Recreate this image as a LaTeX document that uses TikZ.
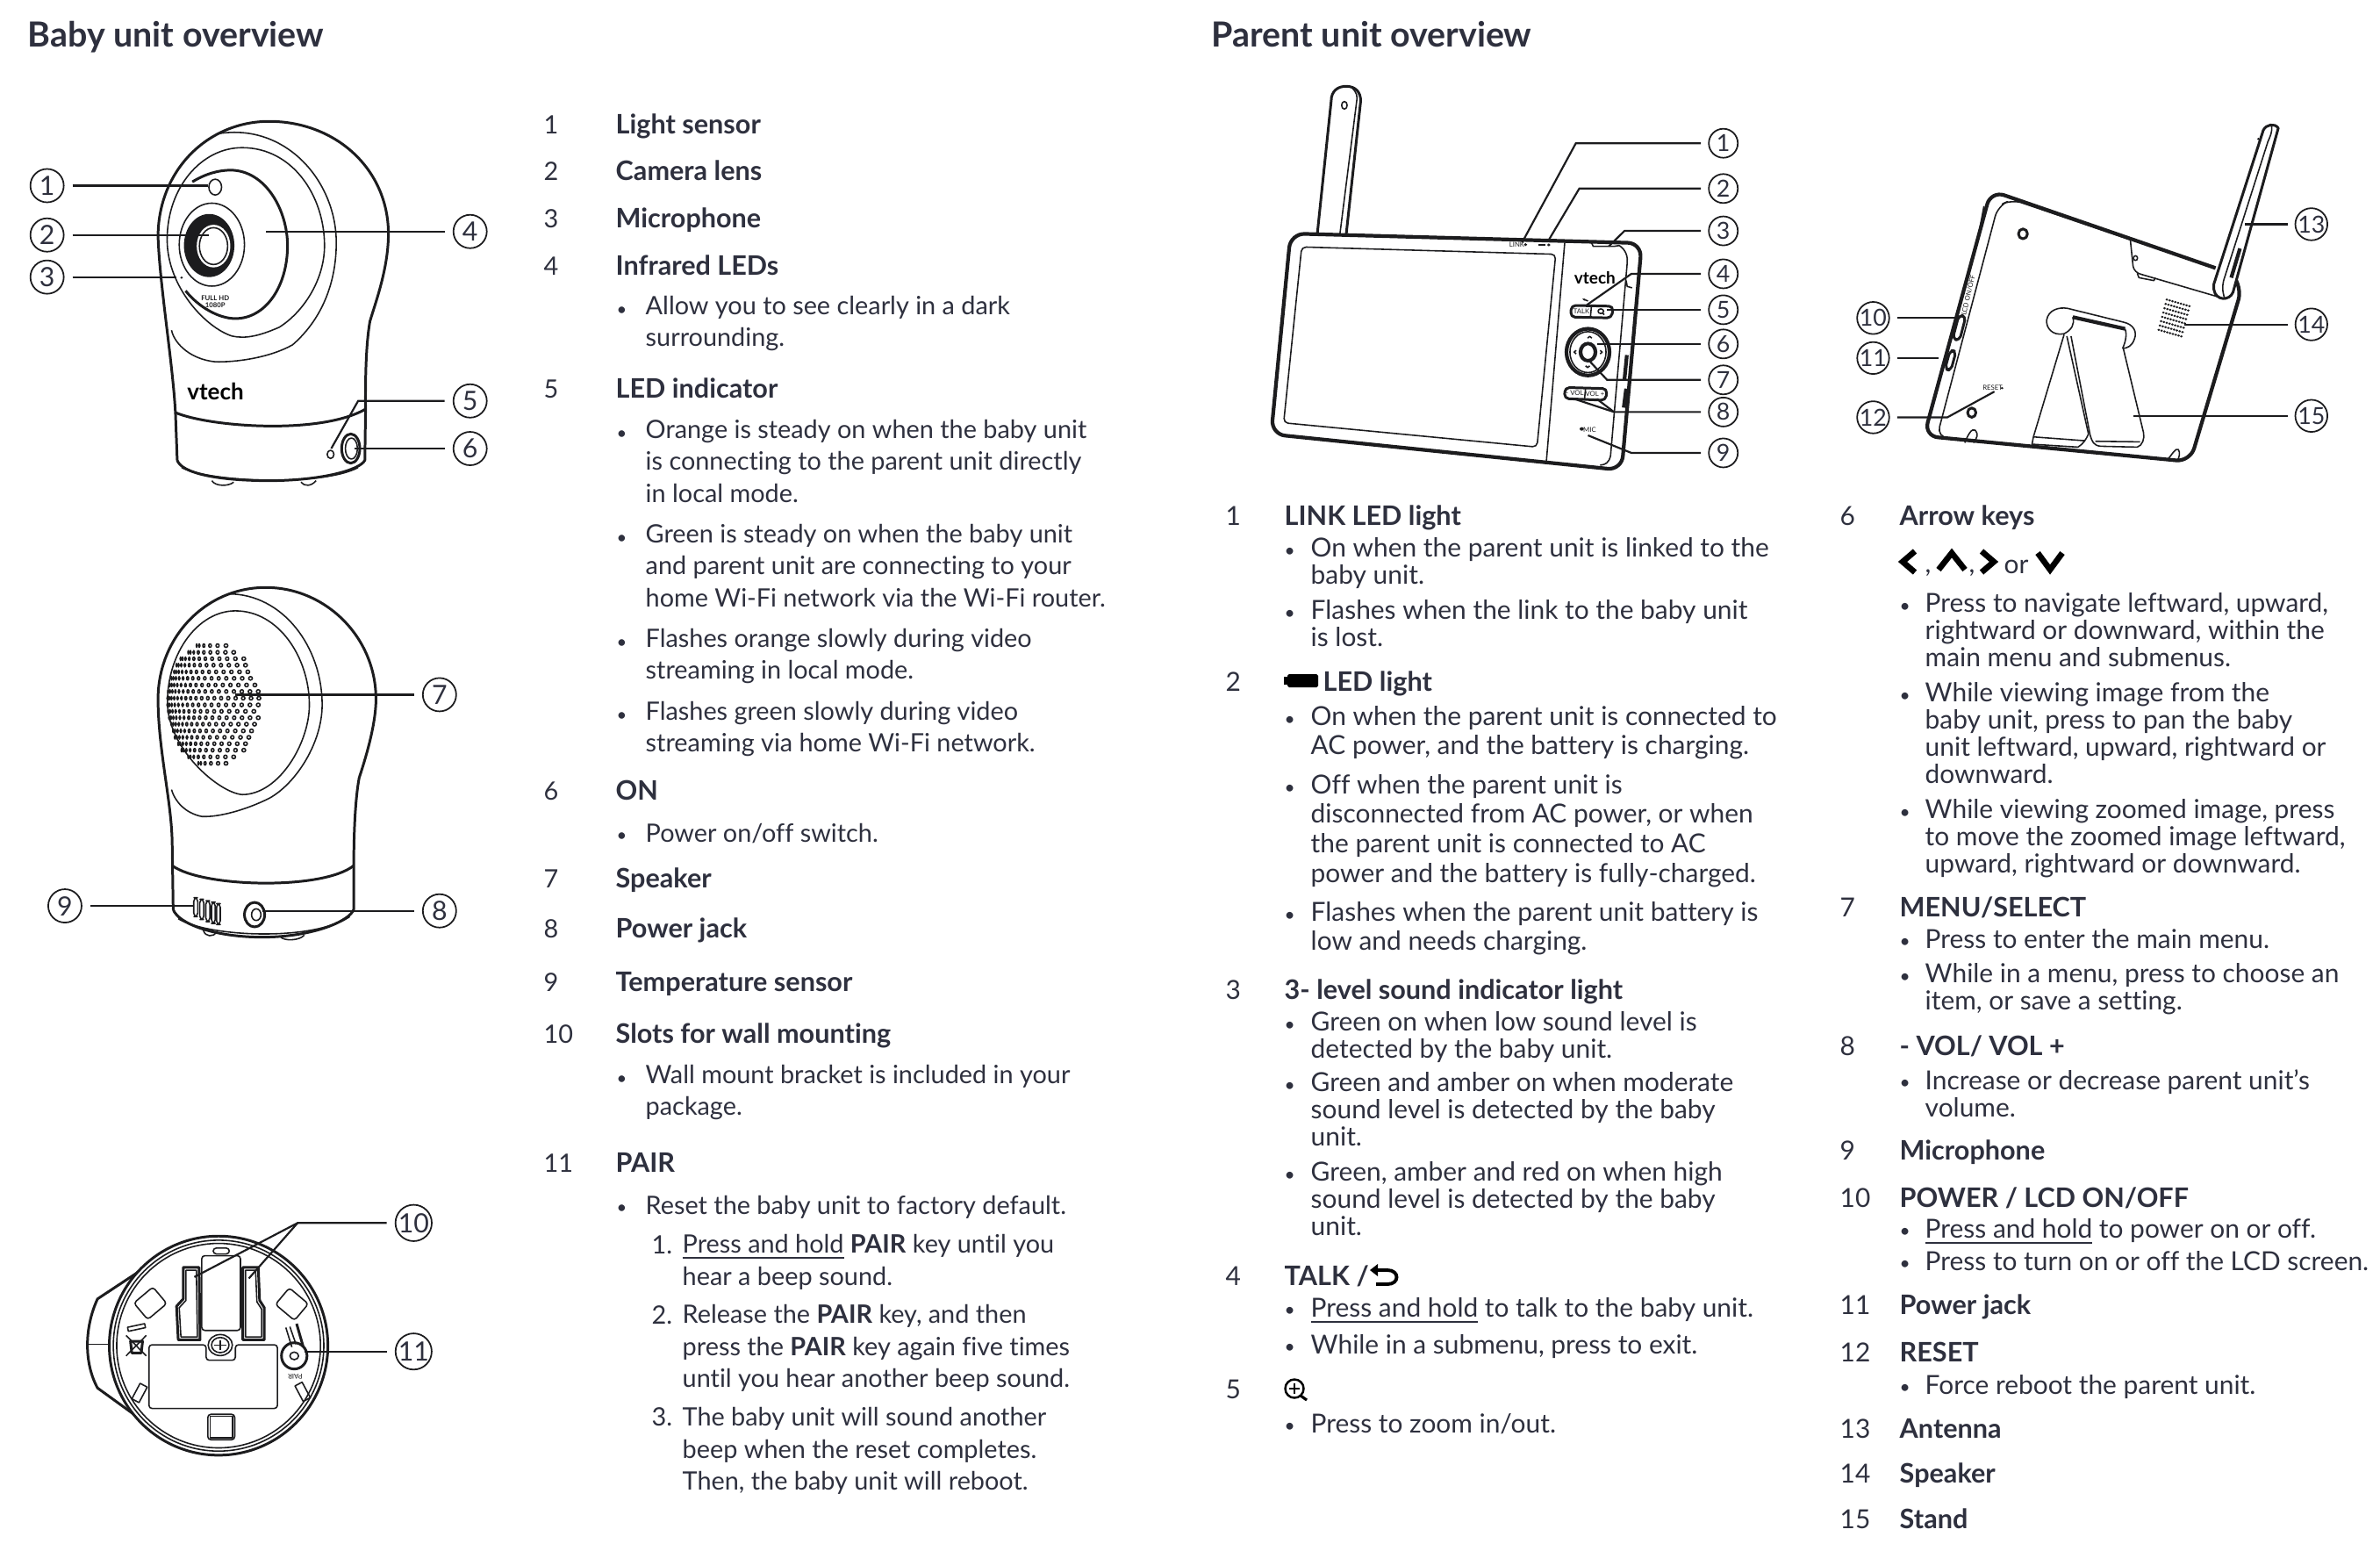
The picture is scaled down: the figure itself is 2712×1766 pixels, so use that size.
\documentclass[tikz,border=0pt]{standalone}
\usepackage{fontspec}
\setmainfont[Ligatures=NoCommon]{Lato}
\usepackage{graphicx}
\usetikzlibrary{arrows.meta}
\definecolor{InkNavy}{RGB}{46,48,62}
\definecolor{LineDark}{RGB}{28,28,30}
\newcommand{\numx}{0}
\newcommand{\titlex}{0}
\newcommand{\bulx}{0}
\newcommand{\textx}{0}
\newcommand{\dotmark}{\raisebox{0.6pt}{\scalebox{0.7}{•}}}
\newcommand{\entry}[4]{%
  \node[numtext] (#1n#2) at (\numx,#3-18) {#2};
  \node[titletext] (#1t#2) at (\titlex,#3-18) {#4};}
\newcommand{\point}[2]{%
  \node[body] (bu\bulx-#1) at (\bulx,#1-16) {\dotmark};
  \node[body] (tx\bulx-#1) at (\textx,#1-12.5) {#2};}
\newcommand{\pointline}[2]{%
  \node[body] (bu\bulx-#1) at (\bulx,#1-16) {\dotmark};
  \node[body] (tx\bulx-#1) at (\textx,#1-17) {#2};}
\tikzset{
  body/.style={anchor=north west,inner sep=0pt,align=left,text=InkNavy,
    font=\fontsize{8.2}{10.36}\selectfont,execute at begin node={\rule{0pt}{8pt}}},
  numtext/.style={body},
  titletext/.style={body,font=\fontsize{8.7}{10.36}\selectfont\bfseries},
  headtext/.style={anchor=base west,inner sep=0pt,text=InkNavy,font=\fontsize{11.2}{13}\selectfont\bfseries},
  callout/.style={circle,draw=LineDark,line width=0.5pt,inner sep=0pt,outer sep=0.1cm,
    minimum size=0.38cm,text=InkNavy,font=\fontsize{8.6}{10}\selectfont},
  smallcallout/.style={callout,minimum size=0.33cm,outer sep=0.09cm,font=\fontsize{7.6}{9}\selectfont},
  leader/.style={draw=LineDark,line width=0.62pt},
  outline/.style={draw=LineDark,line width=0.85pt,line join=round},
  thinline/.style={draw=LineDark,line width=0.45pt,line join=round},
  heavyline/.style={draw=LineDark,line width=1.2pt,line join=round},
  logotext/.style={inner sep=0pt,text=black,font=\bfseries},
  tinytext/.style={inner sep=0pt,text=LineDark,font=\fontsize{2.2}{2.8}\selectfont},
  view/.style n args={3}{shift={(#1,#2)},x=#3cm,y=-0.003333cm}
}
\begin{document}
\begin{tikzpicture}[x=0.01cm,y=-0.01cm]
  \useasboundingbox (0,0) rectangle (2712,1766);
  \node[headtext] (babyhead) at (31,53) {Baby unit overview};
  \node[headtext] (parenthead) at (1380,53) {Parent unit overview};

  % baby unit, front
  \begin{scope}[view={0}{100}{0.003827}]
    \draw[outline] (527,1275) -- (522,1120) .. controls (515,950) and (475,680) .. (470,510)
      .. controls (470,280) and (620,115) .. (800,115) .. controls (1000,115) and (1155,280) .. (1155,500)
      .. controls (1155,620) and (1115,740) .. (1100,800) .. controls (1085,900) and (1087,1050) .. (1087,1110)
      -- (1085,1275) .. controls (1070,1310) and (950,1345) .. (800,1345)
      .. controls (650,1345) and (540,1320) .. (527,1275);
    \draw[outline] (522,1112) .. controls (620,1160) and (950,1190) .. (1087,1100);
    \draw[thinline] (650,157) .. controls (850,120) and (1000,320) .. (1000,530)
      .. controls (1000,680) and (950,800) .. (870,880) .. controls (800,925) and (700,940) .. (640,938)
      .. controls (570,930) and (520,880) .. (510,830);
    \draw[thinline] (497,520) .. controls (497,340) and (600,205) .. (720,205)
      .. controls (870,205) and (965,370) .. (965,540) .. controls (965,660) and (900,770) .. (830,820)
      .. controls (770,850) and (730,860) .. (690,850) .. controls (610,820) and (497,680) .. (497,520);
    \draw[outline] (572,322) .. controls (610,295) and (650,282) .. (685,282)
      .. controls (790,282) and (855,420) .. (855,540) .. controls (855,680) and (790,790) .. (700,790)
      .. controls (650,790) and (590,750) .. (552,695);
    \draw[thinline] (630,537) ellipse (97 and 142);
    \fill[LineDark] (622,540) ellipse (75 and 108);
    \fill[white] (635,542) ellipse (50 and 73);
    \draw[thinline] (635,542) ellipse (42 and 63);
    \draw[thinline] (640,340) ellipse (19 and 27);
    \fill[LineDark] (540,650) circle (4);
    \node[tinytext,align=center] (fullhd) at (640,733) {\bfseries FULL HD\\[-0.4pt]\bfseries 1080P};
    \node[logotext,font=\fontsize{7.4}{8}\selectfont\bfseries] (babylogo) at (641,1038) {vtech};
    \draw[thinline] (983,1255) ellipse (10 and 14);
    \draw[outline] (1043,1235) ellipse (27 and 50);
    \draw[thinline] (1045,1235) ellipse (18 and 36);
    \draw[thinline] (540,1300) .. controls (620,1350) and (960,1365) .. (1065,1300);
    \draw[thinline] (630,1345) .. controls (640,1365) and (680,1365) .. (695,1350);
    \draw[thinline] (895,1350) .. controls (905,1365) and (925,1365) .. (940,1345);
    \node[callout] (fa) at (140,335) {1};
    \node[callout] (fb) at (140,504) {2};
    \node[callout] (fc) at (140,648) {3};
    \node[callout] (fd) at (1398,492) {4};
    \node[callout] (fe) at (1398,1072) {5};
    \node[callout] (ff) at (1398,1235) {6};
    \coordinate (fatip) at (618,335);
    \coordinate (fbtip) at (622,504);
    \coordinate (fctip) at (525,648);
    \coordinate (fdtip) at (790,492);
    \coordinate (febend) at (1065,1072);
    \coordinate (fetip) at (985,1235);
    \coordinate (fftip) at (1055,1235);
    \draw[leader] (fa) -- (fatip);
    \draw[leader] (fb) -- (fbtip);
    \draw[leader] (fc) -- (fctip);
    \draw[leader] (fd) -- (fdtip);
    \draw[leader] (fe) -- (febend) -- (fetip);
    \draw[leader] (ff) -- (fftip);
  \end{scope}

  % baby unit, back
  \begin{scope}[view={0}{640}{0.003827}]
    \draw[outline] (515,1190) -- (512,960) .. controls (510,820) and (470,640) .. (470,470)
      .. controls (470,260) and (610,88) .. (790,88) .. controls (970,88) and (1118,260) .. (1118,470)
      .. controls (1118,560) and (1085,680) .. (1068,740) .. controls (1055,820) and (1052,950) .. (1052,1040)
      -- (1052,1190) .. controls (1040,1230) and (930,1285) .. (780,1285)
      .. controls (640,1285) and (530,1240) .. (515,1190);
    \draw[outline] (512,1040) .. controls (600,1115) and (960,1125) .. (1052,1040);
    \draw[thinline] (680,110) .. controls (840,110) and (958,290) .. (958,490)
      .. controls (958,620) and (880,760) .. (800,810) .. controls (730,850) and (650,875) .. (600,872)
      .. controls (550,860) and (520,820) .. (510,780);
    \draw[thinline] (498,480) .. controls (498,310) and (590,168) .. (700,168)
      .. controls (830,168) and (920,330) .. (920,490) .. controls (920,620) and (830,797) .. (720,797)
      .. controls (650,790) and (498,640) .. (498,480);
    \foreach \yr/\xl/\xr in {287/585/672,310/560/695,332/537/725,354/525/730,377/518/737,399/510/745,
      422/505/758,444/500/768,467/498/770,490/498/768,512/500/755,534/503/768,556/510/757,579/515/748,
      601/520/740,623/530/730,645/540/725,668/560/695,690/590/672}{
      \pgfmathtruncatemacro{\n}{(\xr-\xl)/16}
      \foreach \k in {0,...,\n}{
        \pgfmathsetmacro{\th}{10+70*\k/\n}
        \pgfmathsetmacro{\dx}{\xl+(\xr-\xl)*(cos(10)-cos(\th))/(cos(10)-cos(80))}
        \pgfmathsetmacro{\rx}{1.5+4*\k/\n}
        \draw[thinline] (\dx,\yr) ellipse ({\rx} and 6);
      }
    }
    \draw[thinline,rounded corners=1.2pt] (576,1150) rectangle (588,1215);
    \draw[thinline,rounded corners=1.2pt] (594,1155) rectangle (606,1225);
    \draw[thinline,rounded corners=1.2pt] (612,1160) rectangle (624,1232);
    \draw[thinline,rounded corners=1.2pt] (629,1165) rectangle (640,1238);
    \draw[thinline,rounded corners=1.2pt] (644,1170) rectangle (655,1242);
    \draw[outline] (757,1208) ellipse (30 and 42);
    \draw[thinline] (762,1208) ellipse (14 and 20);
    \draw[thinline] (530,1222) .. controls (620,1285) and (930,1300) .. (1040,1215);
    \draw[thinline] (605,1262) .. controls (610,1285) and (635,1285) .. (645,1268);
    \draw[thinline] (835,1285) .. controls (845,1298) and (890,1298) .. (905,1278);
    \node[callout] (ba) at (1307,455) {7};
    \node[callout] (bb) at (1307,1195) {8};
    \node[callout] (bc) at (193,1178) {9};
    \coordinate (batip) at (700,455);
    \coordinate (bbtip) at (780,1195);
    \coordinate (bctip) at (578,1178);
    \draw[leader] (ba) -- (batip);
    \draw[leader] (bb) -- (bbtip);
    \draw[leader] (bc) -- (bctip);
  \end{scope}

  % baby unit, underside
  \begin{scope}[view={0}{1340}{0.003827}]
    \draw[outline] (415,325) -- (290,420) .. controls (250,520) and (250,640) .. (290,725) -- (410,825);
    \draw[thinline] (258,575) -- (320,575);
    \draw[outline,fill=white] (650,580) ellipse (325 and 375);
    \draw[thinline] (650,580) ellipse (313 and 361);
    \draw[thinline] (650,580) ellipse (303 and 350);
    \draw[outline] (545,312) -- (592,312) -- (595,560) -- (530,560) -- (525,445) -- (545,420) -- cycle;
    \draw[thinline] (553,322) -- (584,322) -- (587,550) -- (538,550) -- (533,450) -- (553,425) -- cycle;
    \draw[outline] (722,312) -- (768,312) -- (772,425) -- (786,450) -- (786,560) -- (722,560) -- cycle;
    \draw[thinline] (730,322) -- (760,322) -- (764,430) -- (778,455) -- (778,550) -- (730,550) -- cycle;
    \draw[thinline,rounded corners=1pt] (600,272) rectangle (715,528);
    \draw[thinline,rounded corners=1pt] (634,246) rectangle (682,266);
    \draw[thinline,rounded corners=1pt,rotate around={40:(447,435)}] (410,398) rectangle (484,472);
    \draw[thinline,rounded corners=1pt,rotate around={-40:(868,438)}] (831,401) rectangle (905,475);
    \draw[thinline,rounded corners=1pt] (618,815) rectangle (698,902);
    \draw[thinline] (625,822) rectangle (691,895);
    \draw[thinline,rounded corners=1pt] (443,577) -- (613,577) -- (613,630) -- (700,630) -- (700,577)
      -- (825,577) -- (825,795) -- (443,795) -- cycle;
    \draw[thinline,fill=white] (655,578) circle (36);
    \draw[thinline] (655,578) circle (26);
    \draw[thinline] (638,578) -- (672,578) (655,562) -- (655,594);
    \draw[thinline,rotate around={12:(405,518)}] (380,511) rectangle (432,525);
    \draw[thinline] (375,545) -- (435,615) (435,545) -- (375,615);
    \draw[outline] (388,565) -- (392,605) -- (420,605) -- (424,565) -- cycle;
    \draw[thinline,rotate around={-28:(415,742)}] (403,712) rectangle (427,772);
    \draw[thinline,rotate around={28:(900,738)}] (888,708) rectangle (912,768);
    \draw[outline] (875,615) ellipse (38 and 45);
    \draw[thinline] (875,615) circle (13);
    \draw[thinline] (850,518) -- (868,585) (862,515) -- (880,575);
    \draw[outline] (882,505) -- (902,585);
    \node[tinytext,rotate=180] (pairlabel) at (878,686) {PAIR};
    \node[callout] (ua) at (1230,160) {10};
    \node[callout] (ub) at (1230,600) {11};
    \coordinate (uabend) at (885,160);
    \coordinate (uatipa) at (578,345);
    \coordinate (uatipb) at (740,350);
    \coordinate (ubtip) at (905,600);
    \draw[leader] (ua) -- (uabend) -- (uatipa);
    \draw[leader] (uabend) -- (uatipb);
    \draw[leader] (ub) -- (ubtip);
  \end{scope}

  % parent unit, front
  \begin{scope}[view={1420}{80}{0.003954}]
    \draw[outline] (205,560) -- (245,105) .. controls (245,70) and (265,55) .. (288,55)
      .. controls (315,55) and (330,75) .. (330,105) -- (288,565);
    \draw[thinline] (305,60) .. controls (318,75) and (322,90) .. (318,110) -- (270,562);
    \draw[thinline] (283,120) ellipse (8 and 13);
    \draw[heavyline,rounded corners=0.16cm] (128,559) -- (1140,592) -- (1082,1369) -- (72,1246) -- cycle;
    \draw[thinline,rounded corners=0.05cm] (160,605) -- (892,630) -- (838,1290) -- (108,1207) -- cycle;
    \draw[thinline] (918,590) -- (865,1340);
    \draw[thinline] (1075,600) .. controls (1095,615) and (1100,640) .. (1098,660) -- (1050,1320) .. controls (1045,1345) and (1035,1350) .. (1020,1352);
    \draw[thinline] (995,590) -- (1000,603) -- (1060,603) -- (1075,600);
    \draw[thinline] (1095,720) -- (1098,740) -- (1112,745);
    \node[tinytext] (linklabel) at (780,597) {LINK};
    \fill[LineDark] (805,597) circle (5);
    \fill[LineDark] (842,594) rectangle (862,602);
    \fill[LineDark] (872,598) circle (5);
    \node[logotext,font=\fontsize{5.4}{6}\selectfont\bfseries] (parentlogo) at (1005,712) {vtech};
    \draw[outline,rounded corners=0.05cm] (937,805) -- (1058,808) -- (1053,848) -- (935,845) -- cycle;
    \draw[thinline] (995,807) -- (992,846);
    \node[tinytext] (talklabel) at (966,826) {TALK};
    \draw[thinline] (1022,825) circle (8);
    \draw[thinline] (1027,831) -- (1032,837);
    \draw[thinline,-{Stealth[length=1pt]}] (985,790) -- (968,782);
    \draw[heavyline] (985,965) ellipse (62 and 80);
    \draw[thinline] (985,965) ellipse (52 and 70);
    \draw[thinline,fill=white] (985,965) ellipse (25 and 33);
    \draw[outline] (985,965) ellipse (20 and 28);
    \draw[thinline] (984,917) -- (990,911) -- (996,917);
    \draw[thinline] (978,1012) -- (984,1018) -- (990,1012);
    \draw[thinline] (951,959) -- (945,965) -- (951,971);
    \draw[thinline] (1020,959) -- (1026,965) -- (1020,971);
    \draw[outline,rounded corners=0.05cm] (919,1086) -- (1040,1090) -- (1036,1130) -- (917,1124) -- cycle;
    \draw[thinline] (978,1088) -- (975,1127);
    \node[tinytext] (volminus) at (947,1106) {- VOL};
    \node[tinytext] (volplus) at (1005,1109) {VOL +};
    \fill[LineDark] (967,1228) circle (6);
    \node[tinytext] (miclabel) at (990,1231) {MIC};
    \draw[heavyline] (1097,975) -- (1090,1060);
    \draw[heavyline] (1095,1090) -- (1088,1155);
    \node[smallcallout] (pa) at (1375,250) {1};
    \node[smallcallout] (pb) at (1375,405) {2};
    \node[smallcallout] (pc) at (1375,550) {3};
    \node[smallcallout] (pd) at (1375,697) {4};
    \node[smallcallout] (pe) at (1375,820) {5};
    \node[smallcallout] (pf) at (1375,937) {6};
    \node[smallcallout] (pg) at (1375,1060) {7};
    \node[smallcallout] (ph) at (1375,1170) {8};
    \node[smallcallout] (pi) at (1375,1310) {9};
    \coordinate (pabend) at (950,250);
    \coordinate (patip) at (795,590);
    \coordinate (pbbend) at (960,405);
    \coordinate (pbtip) at (870,585);
    \coordinate (pcbend) at (1090,550);
    \coordinate (pctip) at (1045,603);
    \coordinate (pdbend) at (1110,697);
    \coordinate (pdtip) at (980,805);
    \coordinate (petip) at (1040,820);
    \coordinate (pftip) at (1012,937);
    \coordinate (pgbend) at (1040,1060);
    \coordinate (pgtip) at (985,990);
    \coordinate (phbend) at (1060,1170);
    \coordinate (phtipa) at (945,1125);
    \coordinate (phtipb) at (1010,1125);
    \coordinate (pibend) at (1110,1310);
    \coordinate (pitip) at (985,1250);
    \draw[leader] (pa) -- (pabend) -- (patip);
    \draw[leader] (pb) -- (pbbend) -- (pbtip);
    \draw[leader] (pc) -- (pcbend) -- (pctip);
    \draw[leader] (pd) -- (pdbend) -- (pdtip);
    \draw[leader] (pe) -- (petip);
    \draw[leader] (pf) -- (pftip);
    \draw[leader] (pg) -- (pgbend) -- (pgtip);
    \draw[leader] (ph) -- (phbend) -- (phtipa);
    \draw[leader] (phbend) -- (phtipb);
    \draw[leader] (pi) -- (pibend) -- (pitip);
  \end{scope}

  % parent unit, back
  \begin{scope}[view={2090}{120}{0.003967}]
    \draw[heavyline,rounded corners=0.16cm] (1095,557) -- (450,292) -- (258,1132) -- (1022,1220) -- (1172,620) -- (1150,590);
    \draw[thinline,rounded corners=0.12cm] (850,460) -- (510,322) -- (470,345) -- (295,1135) -- (370,1145);
    \draw[thinline] (430,345) -- (412,460);
    \draw[thinline] (850,458) -- (858,550) .. controls (860,565) and (870,575) .. (880,578) -- (1115,660);
    \draw[thinline] (870,575) -- (875,590) -- (918,600) -- (922,590);
    \draw[outline] (542,440) ellipse (13 and 17);
    \draw[thinline] (865,523) ellipse (6 and 8);
    \draw[outline,fill=white] (1090,612) -- (1232,85) .. controls (1240,65) and (1265,60) .. (1275,78)
      -- (1145,640) .. controls (1135,670) and (1095,670) .. (1090,630) -- cycle;
    \draw[thinline] (1255,68) .. controls (1260,90) and (1250,110) .. (1245,125) -- (1118,600) .. controls (1112,630) and (1118,650) .. (1122,665);
    \fill[LineDark] (1218,115) circle (4);
    \draw[heavyline] (1165,490) -- (1140,590);
    \draw[thinline] (660,782) .. controls (625,790) and (608,760) .. (610,735)
      .. controls (615,700) and (645,690) .. (670,695) -- (830,742)
      .. controls (860,750) and (870,775) .. (862,800) .. controls (855,825) and (840,832) .. (828,832);
    \draw[heavyline] (685,725) -- (835,765);
    \draw[thinline] (685,725) .. controls (692,750) and (680,770) .. (660,782);
    \draw[thinline] (835,765) .. controls (842,785) and (835,815) .. (828,832);
    \draw[thinline] (660,785) -- (572,1135) -- (568,1160) -- (700,1170) .. controls (715,1160) and (725,1140) .. (730,1125) -- (668,790);
    \draw[thinline] (572,1135) -- (718,1148);
    \draw[thinline] (680,790) -- (735,1130) .. controls (740,1150) and (745,1165) .. (765,1167)
      -- (870,1170) .. controls (885,1165) and (892,1140) .. (888,1120) -- (830,832);
    \draw[thinline] (750,1150) -- (878,1152);
    \foreach \r in {0,...,7}{
      \foreach \d in {0,...,8}{
        \fill[LineDark] ({955-3.3*\r+8.1*\d},{665+14.8*\r+2.8*\d}) ellipse (4 and 4);
      }
    }
    \draw[outline,rounded corners=0.05cm] (358,718) -- (378,722) -- (360,805) -- (340,800) -- cycle;
    \draw[outline,rounded corners=0.05cm] (333,838) -- (350,842) -- (335,908) -- (318,903) -- cycle;
    \node[tinytext,rotate=77] (lcdlabel) at (385,650) {LCD ON/OFF};
    \node[tinytext] (resetlabel) at (455,968) {RESET};
    \fill[LineDark] (482,968) circle (4);
    \draw[outline] (395,1052) ellipse (12 and 16);
    \draw[thinline] (375,1155) .. controls (385,1125) and (395,1105) .. (405,1112) .. controls (415,1125) and (410,1140) .. (400,1155);
    \draw[thinline] (958,1212) .. controls (970,1195) and (980,1172) .. (988,1178) .. controls (995,1190) and (990,1205) .. (985,1218);
    \node[smallcallout] (qa) at (112,728) {10};
    \node[smallcallout] (qb) at (112,865) {11};
    \node[smallcallout] (qc) at (112,1068) {12};
    \node[smallcallout] (qd) at (1370,407) {13};
    \node[smallcallout] (qe) at (1370,750) {14};
    \node[smallcallout] (qf) at (1370,1063) {15};
    \coordinate (qatip) at (345,728);
    \coordinate (qbtip) at (300,865);
    \coordinate (qcbend) at (325,1068);
    \coordinate (qctip) at (460,980);
    \coordinate (qdtip) at (1180,407);
    \coordinate (qetip) at (1005,750);
    \coordinate (qftip) at (860,1063);
    \draw[leader] (qa) -- (qatip);
    \draw[leader] (qb) -- (qbtip);
    \draw[leader] (qc) -- (qcbend) -- (qctip);
    \draw[leader] (qd) -- (qdtip);
    \draw[leader] (qe) -- (qetip);
    \draw[leader] (qf) -- (qftip);
  \end{scope}

  % baby unit list
  \renewcommand{\numx}{619}
  \renewcommand{\titlex}{701}
  \renewcommand{\bulx}{702}
  \renewcommand{\textx}{735}
  \entry{ba}{1}{142}{Light sensor}
  \entry{ba}{2}{195}{Camera lens}
  \entry{ba}{3}{249}{Microphone}
  \entry{ba}{4}{303}{Infrared LEDs}
  \point{349}{Allow you to see clearly in a dark\\surrounding.}
  \entry{ba}{5}{443}{LED indicator}
  \point{490}{Orange is steady on when the baby unit\\is connecting to the parent unit directly\\in local mode.}
  \point{609}{Green is steady on when the baby unit\\and parent unit are connecting to your\\home Wi-Fi network via the Wi-Fi router.}
  \point{728}{Flashes orange slowly during video\\streaming in local mode.}
  \point{811}{Flashes green slowly during video\\streaming via home Wi-Fi network.}
  \entry{ba}{6}{901}{ON}
  \pointline{948}{Power on/off switch.}
  \entry{ba}{7}{1001}{Speaker}
  \entry{ba}{8}{1058}{Power jack}
  \entry{ba}{9}{1119}{Temperature sensor}
  \entry{ba}{10}{1178}{Slots for wall mounting}
  \point{1225}{Wall mount bracket is included in your\\package.}
  \entry{ba}{11}{1325}{PAIR}
  \pointline{1372}{Reset the baby unit to factory default.}
  \node[body] (stepa) at (742,1400) {1.};
  \node[body] (stepb) at (742,1480) {2.};
  \node[body] (stepc) at (742,1596) {3.};
  \node[body] (stepatx) at (777,1406) {\underline{Press and hold} \textbf{PAIR} key until you\\hear a beep sound.};
  \node[body] (stepbtx) at (777,1486) {Release the \textbf{PAIR} key, and then\\press the \textbf{PAIR} key again five times\\until you hear another beep sound.};
  \node[body] (stepctx) at (777,1603) {The baby unit will sound another\\beep when the reset completes.\\Then, the baby unit will reboot.};

  % parent unit lists
  \begin{scope}[body/.append style={font=\fontsize{8.5}{8.82}\selectfont},
    titletext/.append style={font=\fontsize{8.7}{8.82}\selectfont\bfseries}]
    \renewcommand{\numx}{1396}
    \renewcommand{\titlex}{1463}
    \renewcommand{\bulx}{1463}
    \renewcommand{\textx}{1493}
    \entry{mi}{1}{588}{LINK LED light}
    \point{624}{On when the parent unit is linked to the\\baby unit.}
    \point{695}{Flashes when the link to the baby unit\\is lost.}
    \entry{mi}{2}{777}{\hspace{0.44cm}LED light}
    \fill[black,rounded corners=0.5pt] (1467,768) rectangle (1502,783);
    \fill[black] (1463,771) rectangle (1468,780);
    \begin{scope}[body/.append style={font=\fontsize{8.5}{9.6}\selectfont}]
      \point{816}{On when the parent unit is connected to\\AC power, and the battery is charging.}
      \point{894}{Off when the parent unit is\\disconnected from AC power, or when\\the parent unit is connected to AC\\power and the battery is fully-charged.}
      \point{1039}{Flashes when the parent unit battery is\\low and needs charging.}
    \end{scope}
    \entry{mi}{3}{1128}{3- level sound indicator light}
    \point{1164}{Green on when low sound level is\\detected by the baby unit.}
    \point{1233}{Green and amber on when moderate\\sound level is detected by the baby\\unit.}
    \point{1335}{Green, amber and red on when high\\sound level is detected by the baby\\unit.}
    \entry{mi}{4}{1454}{TALK /}
    \draw[black,line width=1.1pt] (1568,1463) -- (1581,1463) .. controls (1595,1463) and (1595,1447) .. (1581,1447) -- (1568,1447);
    \fill[black] (1561,1447) -- (1570,1440) -- (1570,1454) -- cycle;
    \pointline{1489}{\underline{Press and hold} to talk to the baby unit.}
    \pointline{1531}{While in a submenu, press to exit.}
    \entry{mi}{5}{1583}{}
    \draw[black,line width=0.7pt] (1475,1582) circle (10.5);
    \draw[black,line width=0.5pt] (1469,1582) -- (1481,1582) (1475,1576) -- (1475,1588);
    \draw[black,line width=0.9pt] (1482,1590) -- (1489,1595);
    \pointline{1621}{Press to zoom in/out.}

    \renewcommand{\numx}{2096}
    \renewcommand{\titlex}{2164}
    \renewcommand{\bulx}{2164}
    \renewcommand{\textx}{2193}
    \entry{ri}{6}{588}{Arrow keys}
    \draw[black,line width=1.9pt] (2182,628) -- (2168,640) -- (2182,652);
    \draw[black,line width=1.9pt] (2209,649) -- (2224,630) -- (2239,649);
    \draw[black,line width=1.9pt] (2258,628) -- (2272,640) -- (2258,652);
    \draw[black,line width=1.9pt] (2322,630) -- (2336,649) -- (2350,630);
    \node[body] (arrowa) at (2193,624) {,};
    \node[body] (arrowb) at (2243,624) {,};
    \node[body] (arrowor) at (2283,625) {or};
    \point{687}{Press to navigate leftward, upward,\\rightward or downward, within the\\main menu and submenus.}
    \point{789}{While viewing image from the\\baby unit, press to pan the baby\\unit leftward, upward, rightward or\\downward.}
    \point{922}{While viewing zoomed image, press\\to move the zoomed image leftward,\\upward, rightward or downward.}
    \entry{ri}{7}{1034}{MENU/SELECT}
    \pointline{1069}{Press to enter the main menu.}
    \point{1109}{While in a menu, press to choose an\\item, or save a setting.}
    \entry{ri}{8}{1192}{- VOL/ VOL +}
    \point{1230}{Increase or decrease parent unit's\\volume.}
    \entry{ri}{9}{1311}{Microphone}
    \entry{ri}{10}{1365}{POWER / LCD ON/OFF}
    \pointline{1399}{\underline{Press and hold} to power on or off.}
    \pointline{1436}{Press to turn on or off the LCD screen.}
    \entry{ri}{11}{1487}{Power jack}
    \entry{ri}{12}{1541}{RESET}
    \pointline{1577}{Force reboot the parent unit.}
    \entry{ri}{13}{1628}{Antenna}
    \entry{ri}{14}{1679}{Speaker}
    \entry{ri}{15}{1731}{Stand}
  \end{scope}
\end{tikzpicture}
\end{document}
